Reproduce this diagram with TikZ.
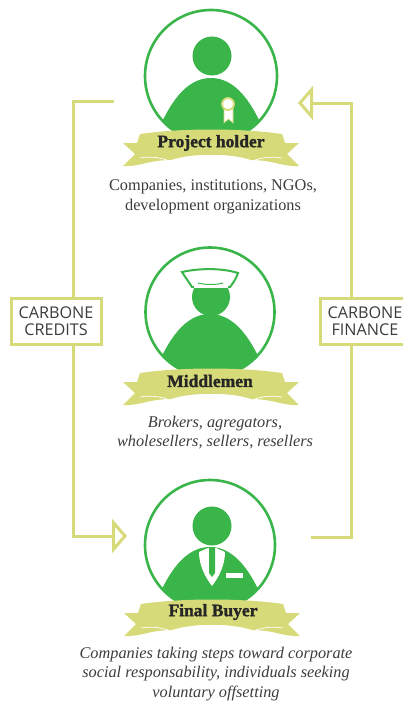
\documentclass[tikz,border=0pt]{standalone}
\usepackage{fontspec}
\setmainfont{Liberation Serif}
\newfontfamily\labelfont{Open Sans}
\newfontfamily\titlefont[UprightFont=* Bold,FakeBold=1.6]{Liberation Serif}
\usetikzlibrary{arrows.meta}
\usetikzlibrary{positioning}
\definecolor{figuregreen}{HTML}{39B54A}
\definecolor{ribbonyellow}{HTML}{D6DA78}
\definecolor{textgray}{HTML}{3C3C40}
\tikzset{
	flowline/.style={draw=ribbonyellow,line width=3pt},
	flowarrow/.style={flowline,-{Triangle[open,length=15pt,width=34pt]}},
	tagbox/.style={rectangle,draw=ribbonyellow,line width=3pt,fill=white,text=textgray,align=center,font=\labelfont\fontsize{16.2}{16.5}\selectfont,minimum height=46pt,inner sep=0pt},
	title/.style={font=\titlefont\fontsize{17.5}{18}\selectfont,text=black!85},
	caption/.style={align=center,text=textgray,font=\fontsize{16.3}{19.5}\selectfont},
	slanted/.style={caption,font=\itshape\fontsize{16.3}{19.2}\selectfont},
	ring/.style={circle,draw=figuregreen,line width=2.6pt,fill=white,inner sep=0pt},
	head/.style={circle,fill=figuregreen,inner sep=0pt,minimum size=39pt},
	pics/ribbon/.style={code={
		\fill[ribbonyellow] (-71,-15) .. controls (-30,-21) and (30,-21) .. (71,-15)
			-- (74,-6) -- (88,-6) -- (76,5) -- (88,17) .. controls (72,18) and (62,11) .. (40,11)
			.. controls (20,4) and (-20,4) .. (-40,11) .. controls (-62,11) and (-72,18) .. (-88,17)
			-- (-76,5) -- (-88,-6) -- (-74,-6) -- cycle;
		\draw[white,line width=0.7pt] (-71,9) .. controls (-60,7) and (-50,9) .. (-44,11);
		\draw[white,line width=0.7pt] (71,9) .. controls (60,7) and (50,9) .. (44,11);
	}},
}
\newcommand{\bodydome}[2]{
	\begin{scope}[shift={(#1)}]
		\clip (0,0) circle (#2);
		\fill[figuregreen] (-56,62) .. controls (-42,27) and (-25,2) .. (0,2) .. controls (25,2) and (42,27) .. (56,62) -- cycle;
	\end{scope}
}
\begin{document}
\begin{tikzpicture}[x=1pt,y=-1pt]
	\useasboundingbox (0,0) rectangle (403,701);
	% boxes and arrows
	\node[tagbox,minimum width=90pt] (Credits) at (56,321) {CARBONE\\CREDITS};
	\node[tagbox,minimum width=90pt] (Finance) at (365,321) {CARBONE\\FINANCE};
	\coordinate (HolderOut) at (114,101);
	\coordinate (HolderIn) at (298,103);
	\coordinate (BuyerIn) at (127,536);
	\coordinate (BuyerOut) at (311,537);
	\draw[flowline] (HolderOut) -| ([xshift=17pt]Credits.north);
	\draw[flowarrow] ([xshift=17pt]Credits.south) |- (BuyerIn);
	\draw[flowline] (BuyerOut) -| ([xshift=-14pt]Finance.south);
	\draw[flowarrow] ([xshift=-14pt]Finance.north) |- (HolderIn);
	% project holder
	\node[ring,minimum size=132pt] (HolderRing) at (211,76) {};
	\bodydome{211,76}{66}
	\node[head] (HolderHead) at (212,56) {};
	\fill[white,draw=ribbonyellow,line width=0.6pt] (224,108) -- (224,123) -- (228.5,119) -- (233,123) -- (233,108) -- cycle;
	\node[circle,fill=white,draw=ribbonyellow,line width=1.8pt,minimum size=12pt,inner sep=0pt] (Rosette) at (228,104) {};
	\pic (HolderRibbon) at (211,149) {ribbon};
	\node[title] (HolderTitle) at (211,143) {Project holder};
	\node[caption] (HolderText) at (213,197) {Companies, institutions, NGOs,\\development organizations};
	% middlemen
	\node[ring,minimum size=129pt] (MiddleRing) at (210,312) {};
	\bodydome{210,312}{64.5}
	\node[head,minimum size=38pt] (MiddleHead) at (211,297) {};
	\filldraw[fill=white,draw=figuregreen,line width=2pt] (182,272) .. controls (200,268) and (222,268) .. (238,273)
		.. controls (236,279) and (233,283) .. (230,287) -- (192,287)
		.. controls (189,282) and (185,277) .. (182,272) -- cycle;
	\fill[white] (194,284) rectangle (228,288);
	\draw[figuregreen,line width=1pt] (198,283) .. controls (206,285) and (216,285) .. (223,283);
	\pic (MiddleRibbon) at (211,388) {ribbon};
	\node[title] (MiddleTitle) at (210,381) {Middlemen};
	\node[slanted] (MiddleText) at (215,432.5) {Brokers, agregators,\\wholesellers, sellers, resellers};
	% final buyer
	\node[ring,minimum size=130pt] (BuyerRing) at (210,545) {};
	\bodydome{210,545}{65}
	\node[head] (BuyerHead) at (212,526) {};
	\fill[white] (199,552) -- (208,548) -- (216,548) -- (225,552) .. controls (225,565) and (219,577) .. (212,586) .. controls (205,577) and (199,565) .. (199,552) -- cycle;
	\fill[figuregreen] (209,547) -- (215,547) -- (215,573) -- (212,577) -- (209,573) -- cycle;
	\fill[white] (226,573) rectangle (243,578);
	\pic (BuyerRibbon) at (212,619) {ribbon};
	\node[title] (BuyerTitle) at (213,612) {Final Buyer};
	\node[slanted] (BuyerText) at (216,674) {Companies taking steps toward corporate\\social responsability, individuals seeking\\voluntary offsetting};
\end{tikzpicture}
\end{document}
